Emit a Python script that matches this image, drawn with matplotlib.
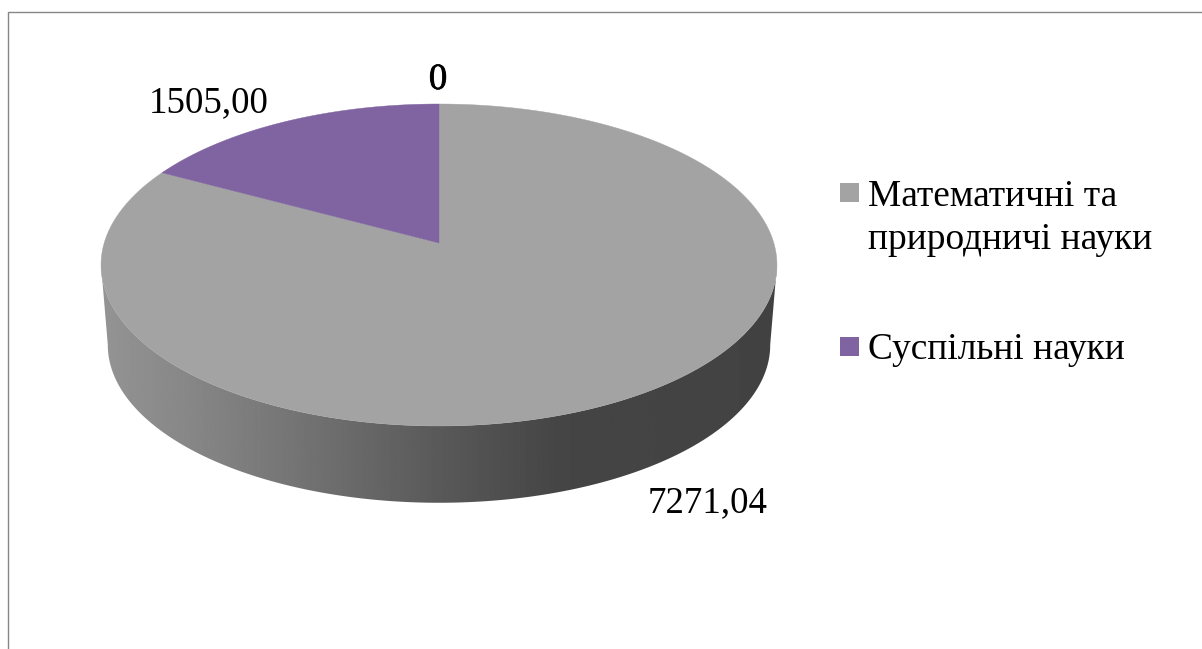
import numpy as np
import matplotlib
matplotlib.use("Agg")
import matplotlib.pyplot as plt
import matplotlib.patheffects as pe
from matplotlib.patches import Polygon, Rectangle

plt.rcParams["font.family"] = ["Liberation Serif", "DejaVu Serif"]

categories = ["Математичні та\nприродничі науки", "Суспільні науки"]
values = [7271.04, 1505.00]
value_labels = ["7271,04", "1505,00"]
zero_label = "0"
slice_colors = ["#a3a3a3", "#8064a2"]

# side wall shading, left to right
shade_x = [0.0, 0.15, 0.30, 0.50, 0.68, 1.0]
shade_grey = [0.58, 0.52, 0.45, 0.35, 0.27, 0.26]

# pie geometry in pixels, the top face has perspective so its apex is off centre
CX, APEX_Y = 439, 243
TOP_Y, BOTTOM_Y = 104, 426
WIDTH = 334.8
K = 0.1366
SIDE_SCALE = 0.98
SIDE_SHIFT = 80


def top_face(theta):
    # theta is clockwise from 12 o'clock
    u, v = np.sin(theta), np.cos(theta)
    w = 1 + K * v
    a = TOP_Y * (1 + K) - APEX_Y
    return CX + WIDTH * u / w, (APEX_Y + a * v) / w


def bottom_face(theta):
    x, y = top_face(theta)
    mid = (TOP_Y + BOTTOM_Y) / 2
    return CX + (x - CX) * SIDE_SCALE, mid + SIDE_SHIFT + (y - mid) * SIDE_SCALE


fig = plt.figure(figsize=(12.02, 6.49), dpi=100)
ax = fig.add_axes([0, 0, 1, 1])
ax.set_xlim(0, 1202)
ax.set_ylim(649, 0)
ax.axis("off")

# chart frame, cut off on the right and at the bottom
ax.plot([8, 8, 1202], [649, 12, 12], color="#868686", lw=1.0, solid_joinstyle="miter")

# side wall: gradient clipped to the band under the top face
t = np.linspace(0, 2 * np.pi, 1441)
tx, ty = top_face(t)
bx, by = bottom_face(t)
tr, tl = tx.argmax(), tx.argmin()
br, bl = bx.argmax(), bx.argmin()
side = np.vstack([
    np.column_stack([bx[br:bl + 1], by[br:bl + 1]]),
    np.column_stack([tx[tr:tl + 1][::-1], ty[tr:tl + 1][::-1]]),
])
x0, x1 = tx.min(), tx.max()
grad = np.interp(np.linspace(0, 1, 700), shade_x, shade_grey)
img = ax.imshow(grad[None, :], cmap="gray", vmin=0, vmax=1, aspect="auto",
                extent=[x0, x1, by.max() + 2, ty[tr] - 5], zorder=1)
clip = Polygon(side, closed=True, transform=ax.transData, fc="none", ec="none")
ax.add_patch(clip)
img.set_clip_path(clip)
ax.set_xlim(0, 1202)
ax.set_ylim(649, 0)

# top face slices, going clockwise from 12 o'clock
start = 0.0
total = sum(values)
for val, col in zip(values, slice_colors):
    sweep = 2 * np.pi * val / total
    th = np.linspace(start, start + sweep, 500)
    px, py = top_face(th)
    pts = np.column_stack([np.r_[CX, px], np.r_[APEX_Y, py]])
    ax.add_patch(Polygon(pts, closed=True, fc=col, ec=col, lw=0.3, zorder=2))
    start += sweep

# data labels
ax.text(648, 512, value_labels[0], fontsize=26.6, color="black", ha="left", va="baseline", zorder=3)
ax.text(149, 112, value_labels[1], fontsize=26.6, color="black", ha="left", va="baseline", zorder=3)
ax.text(438, 89, zero_label, fontsize=26.6, color="black", ha="center", va="baseline", zorder=3,
        path_effects=[pe.withStroke(linewidth=0.5, foreground="black")])

# legend
ax.add_patch(Rectangle((840, 183), 19, 19, fc=slice_colors[0], ec="none"))
ax.add_patch(Rectangle((840, 337), 19, 19, fc=slice_colors[1], ec="none"))
first, second = categories[0].split("\n")
ax.text(868, 206, first, fontsize=26.9, ha="left", va="baseline")
ax.text(868, 249, second, fontsize=26.9, ha="left", va="baseline")
ax.text(868, 359, categories[1], fontsize=26.9, ha="left", va="baseline")

fig.savefig("out.png", dpi=100)
